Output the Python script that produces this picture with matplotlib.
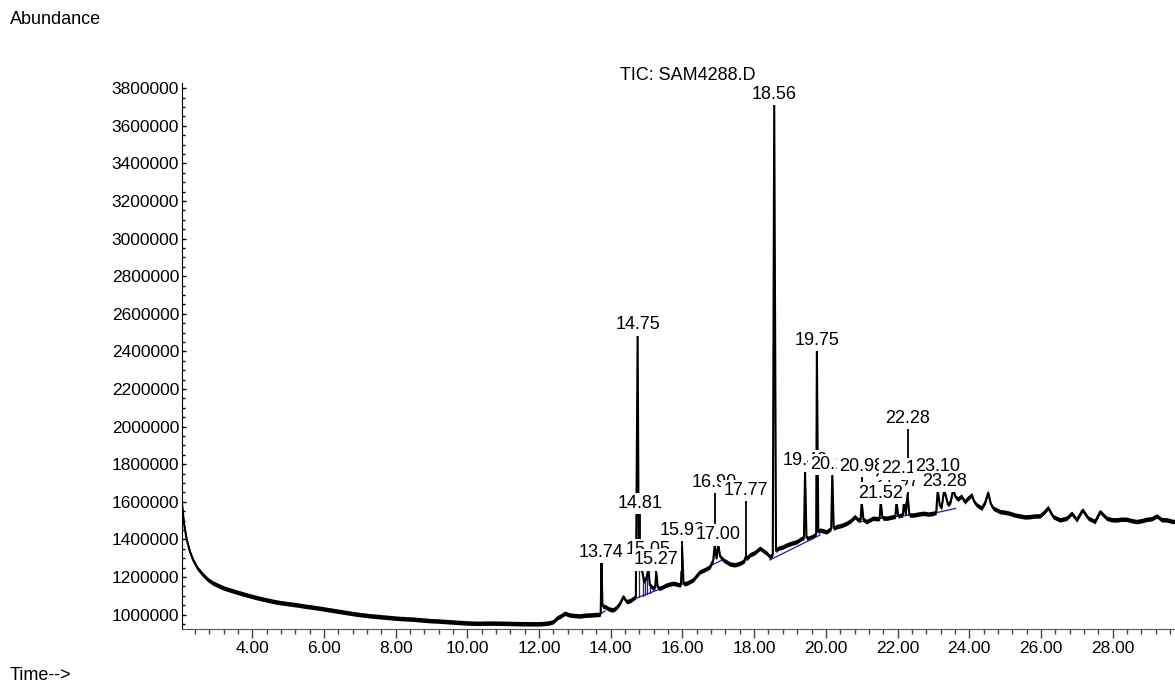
import numpy as np
import matplotlib
matplotlib.use("Agg")
import matplotlib.pyplot as plt
from matplotlib.ticker import MultipleLocator, FixedLocator

plt.rcParams['font.family'] = ['Liberation Sans', 'DejaVu Sans']

# TIC trace (minutes, abundance)
tiempo = [2.04, 2.10, 2.17, 2.26, 2.35, 2.48, 2.63, 2.77, 2.91, 3.05, 3.20, 3.38, 3.60, 3.84,
          4.07, 4.31, 4.55, 4.77, 5.00, 5.24, 5.47, 5.70, 5.94, 6.17, 6.40, 6.63, 6.86, 7.10,
          7.33, 7.56, 7.80, 8.03, 8.26, 8.49, 8.72, 8.96, 9.19, 9.42, 9.66, 9.89, 10.10, 10.30,
          10.60, 11.00, 11.45, 11.93, 12.15, 12.30, 12.40, 12.52, 12.58, 12.72, 12.86, 13.00,
          13.14, 13.28, 13.42, 13.56, 13.70, 13.72, 13.74, 13.77, 13.84, 13.95, 14.07, 14.17,
          14.26, 14.35, 14.44, 14.55, 14.63, 14.70, 14.75, 14.78, 14.81, 14.84, 14.88, 14.93,
          15.00, 15.05, 15.09, 15.19, 15.24, 15.27, 15.31, 15.37, 15.56, 15.74, 15.93, 15.96,
          15.99, 16.03, 16.12, 16.30, 16.49, 16.63, 16.77, 16.86, 16.90, 16.95, 17.00, 17.05,
          17.14, 17.32, 17.46, 17.60, 17.72, 17.77, 17.81, 17.88, 18.02, 18.16, 18.35, 18.44,
          18.52, 18.56, 18.61, 18.67, 18.80, 18.91, 19.05, 19.19, 19.33, 19.39, 19.42, 19.46,
          19.51, 19.62, 19.70, 19.73, 19.75, 19.79, 19.84, 20.02, 20.12, 20.15, 20.18, 20.22,
          20.30, 20.45, 20.58, 20.70, 20.81, 20.90, 20.97, 21.00, 21.05, 21.14, 21.32, 21.45,
          21.50, 21.53, 21.58, 21.70, 21.88, 21.94, 21.97, 22.02, 22.11, 22.15, 22.18, 22.23,
          22.28, 22.33, 22.44, 22.58, 22.72, 22.86, 23.00, 23.08, 23.12, 23.18, 23.23, 23.30,
          23.41, 23.48, 23.55, 23.62, 23.69, 23.78, 23.88, 23.97, 24.07, 24.14, 24.21, 24.35,
          24.45, 24.53, 24.60, 24.67, 24.86, 24.98, 25.13, 25.27, 25.41, 25.55, 25.69, 25.83,
          25.97, 26.11, 26.20, 26.34, 26.53, 26.72, 26.86, 27.00, 27.16, 27.32, 27.51, 27.65,
          27.83, 27.97, 28.11, 28.25, 28.39, 28.53, 28.67, 28.81, 28.95, 29.09, 29.23, 29.37,
          29.51, 29.69, 29.74]
abundancia = [1590000, 1480000, 1400000, 1335000, 1290000, 1245000, 1211000, 1185000, 1167000,
              1155000, 1142000, 1131000, 1118000, 1105000, 1093000, 1082000, 1072000, 1064000,
              1058000, 1052000, 1045000, 1039000, 1032000, 1025000, 1018000, 1011000, 1004000,
              998000, 993000, 989000, 985000, 981000, 978000, 976000, 972000, 968000, 966000,
              963000, 960000, 957000, 955000, 954000, 955000, 954000, 952000, 951000, 953000,
              957000, 963000, 985000, 990000, 1007000, 998000, 995000, 993000, 997000, 998000,
              1000000, 1002000, 1010000, 1286000, 1045000, 1043000, 1030000, 1025000, 1040000,
              1061000, 1096000, 1069000, 1075000, 1087000, 1095000, 2498000, 1300000, 1400000,
              1240000, 1229000, 1175000, 1200000, 1245000, 1158000, 1140000, 1150000, 1225000,
              1145000, 1140000, 1158000, 1167000, 1158000, 1165000, 1360000, 1165000, 1167000,
              1185000, 1228000, 1240000, 1255000, 1291000, 1371000, 1300000, 1371000, 1310000,
              1291000, 1270000, 1265000, 1273000, 1285000, 1310000, 1300000, 1318000, 1330000,
              1353000, 1327000, 1308000, 1320000, 3720000, 1340000, 1353000, 1360000, 1371000,
              1380000, 1388000, 1406000, 1410000, 1765000, 1410000, 1406000, 1415000, 1424000,
              1430000, 2400000, 1440000, 1450000, 1440000, 1455000, 1460000, 1752000, 1460000,
              1468000, 1475000, 1486000, 1500000, 1521000, 1504000, 1505000, 1600000, 1505000,
              1495000, 1513000, 1510000, 1512000, 1600000, 1515000, 1513000, 1521000, 1523000,
              1600000, 1525000, 1530000, 1532000, 1605000, 1535000, 1640000, 1530000, 1530000,
              1535000, 1539000, 1535000, 1539000, 1545000, 1663000, 1580000, 1570000, 1663000,
              1585000, 1600000, 1663000, 1625000, 1615000, 1630000, 1600000, 1620000, 1637000,
              1600000, 1584000, 1566000, 1600000, 1649000, 1590000, 1566000, 1548000, 1545000,
              1539000, 1530000, 1525000, 1520000, 1521000, 1525000, 1525000, 1548000, 1569000,
              1521000, 1504000, 1513000, 1539000, 1504000, 1557000, 1513000, 1495000, 1548000,
              1513000, 1505000, 1504000, 1508000, 1507000, 1500000, 1495000, 1500000, 1507000,
              1510000, 1525000, 1505000, 1504000, 1495000, 1498000]
ruido = 12000  # half thickness of the noise band

# peak labels: text, retention time, label height
picos_txt = ["13.74", "14.75", "14.81", "15.05", "15.27", "15.98", "17.00", "16.90", "17.77",
             "18.56", "19.42", "19.75", "20.18", "20.98", "21.97", "21.52", "22.18", "22.28",
             "23.10", "23.28"]
picos_t = [13.74, 14.75, 14.81, 15.05, 15.27, 15.99, 17.00, 16.90, 17.77, 18.56, 19.42, 19.75,
           20.18, 21.00, 21.97, 21.53, 22.18, 22.28, 23.12, 23.30]
picos_y = [1332000, 2541000, 1593000, 1344000, 1291000, 1450000, 1424000, 1702000, 1660000,
           3768000, 1818000, 2457000, 1800000, 1787000, 1707000, 1647000, 1775000, 2046000,
           1787000, 1707000]

# integration baselines (blue)
base_t0 = [13.70, 14.70, 15.93, 16.80, 17.70, 18.44, 20.90, 21.45, 21.90, 23.00]
base_v0 = [1002000, 1087000, 1158000, 1262000, 1280000, 1291000, 1500000, 1510000, 1520000, 1539000]
base_t1 = [13.84, 15.30, 16.05, 17.10, 17.85, 19.84, 21.10, 21.65, 22.35, 23.62]
base_v1 = [1020000, 1131000, 1165000, 1290000, 1300000, 1424000, 1500000, 1515000, 1530000, 1565000]
caidas_t = [14.79, 14.90, 14.96, 15.02, 15.09]

fig = plt.figure(figsize=(11.75, 6.82), dpi=100)
ax = fig.add_axes([0.1549, 0.0782, 0.8451, 0.8001])

t = np.array(tiempo)
a = np.array(abundancia)
ax.fill_between(t, a - ruido, a + ruido, color='black', lw=0, zorder=2)
ax.plot(t, a, color='black', lw=1.5, zorder=3)

for i in range(len(base_t0)):
    ax.plot([base_t0[i], base_t1[i]], [base_v0[i], base_v1[i]], color='#1a1aa0', lw=0.9, zorder=2.5)
for tc in caidas_t:
    b = np.interp(tc, [base_t0[1], base_t1[1]], [base_v0[1], base_v1[1]])
    ax.plot([tc, tc], [b, np.interp(tc, t, a)], color='#1a1aa0', lw=0.9, zorder=2.5)

# leader lines then labels with white boxes, later ones covering earlier ones
for i in range(len(picos_txt)):
    apex = np.interp(picos_t[i], t, a)
    top = picos_y[i] - 40000
    if top > apex:
        ax.plot([picos_t[i], picos_t[i]], [apex, top], color='black', lw=1.3, zorder=3)
for i in range(len(picos_txt)):
    ax.text(picos_t[i], picos_y[i], picos_txt[i], ha='center', va='center', fontsize=13,
            bbox=dict(facecolor='white', edgecolor='none', pad=1.5), zorder=5 + i)

ax.set_xlim(2.04, 29.74)
ax.set_ylim(925500, 3828000)

xt = [4, 6, 8, 10, 12, 14, 16, 18, 20, 22, 24, 26, 28]
ax.xaxis.set_major_locator(FixedLocator(xt))
ax.set_xticklabels(["%.2f" % v for v in xt])
ax.xaxis.set_minor_locator(MultipleLocator(0.4))
yt = list(range(1000000, 3800001, 200000))
ax.yaxis.set_major_locator(FixedLocator(yt))
ax.set_yticklabels([str(v) for v in yt])
ax.yaxis.set_minor_locator(MultipleLocator(50000))

for s in ['top', 'right']:
    ax.spines[s].set_visible(False)
ax.spines['left'].set_color('black')
ax.spines['bottom'].set_color('#555555')
ax.tick_params(axis='x', which='major', direction='out', length=6.3, width=1, color='#444444',
               labelsize=12.5, pad=2.5)
ax.tick_params(axis='x', which='minor', direction='out', length=3.4, width=1, color='#444444')
ax.tick_params(axis='y', which='major', direction='in', length=3, width=1, labelsize=12.5, pad=2)
ax.tick_params(axis='y', which='minor', direction='in', length=2, width=1)

fig.text(10 / 1175, 1 - 19 / 682, "Abundance", fontsize=13, ha='left', va='center')
fig.text(10 / 1175, 1 - 675 / 682, "Time-->", fontsize=13, ha='left', va='center')
fig.text(688 / 1175, 1 - 75 / 682, "TIC: SAM4288.D", fontsize=13, ha='center', va='center')

fig.savefig("out.png", dpi=100)
